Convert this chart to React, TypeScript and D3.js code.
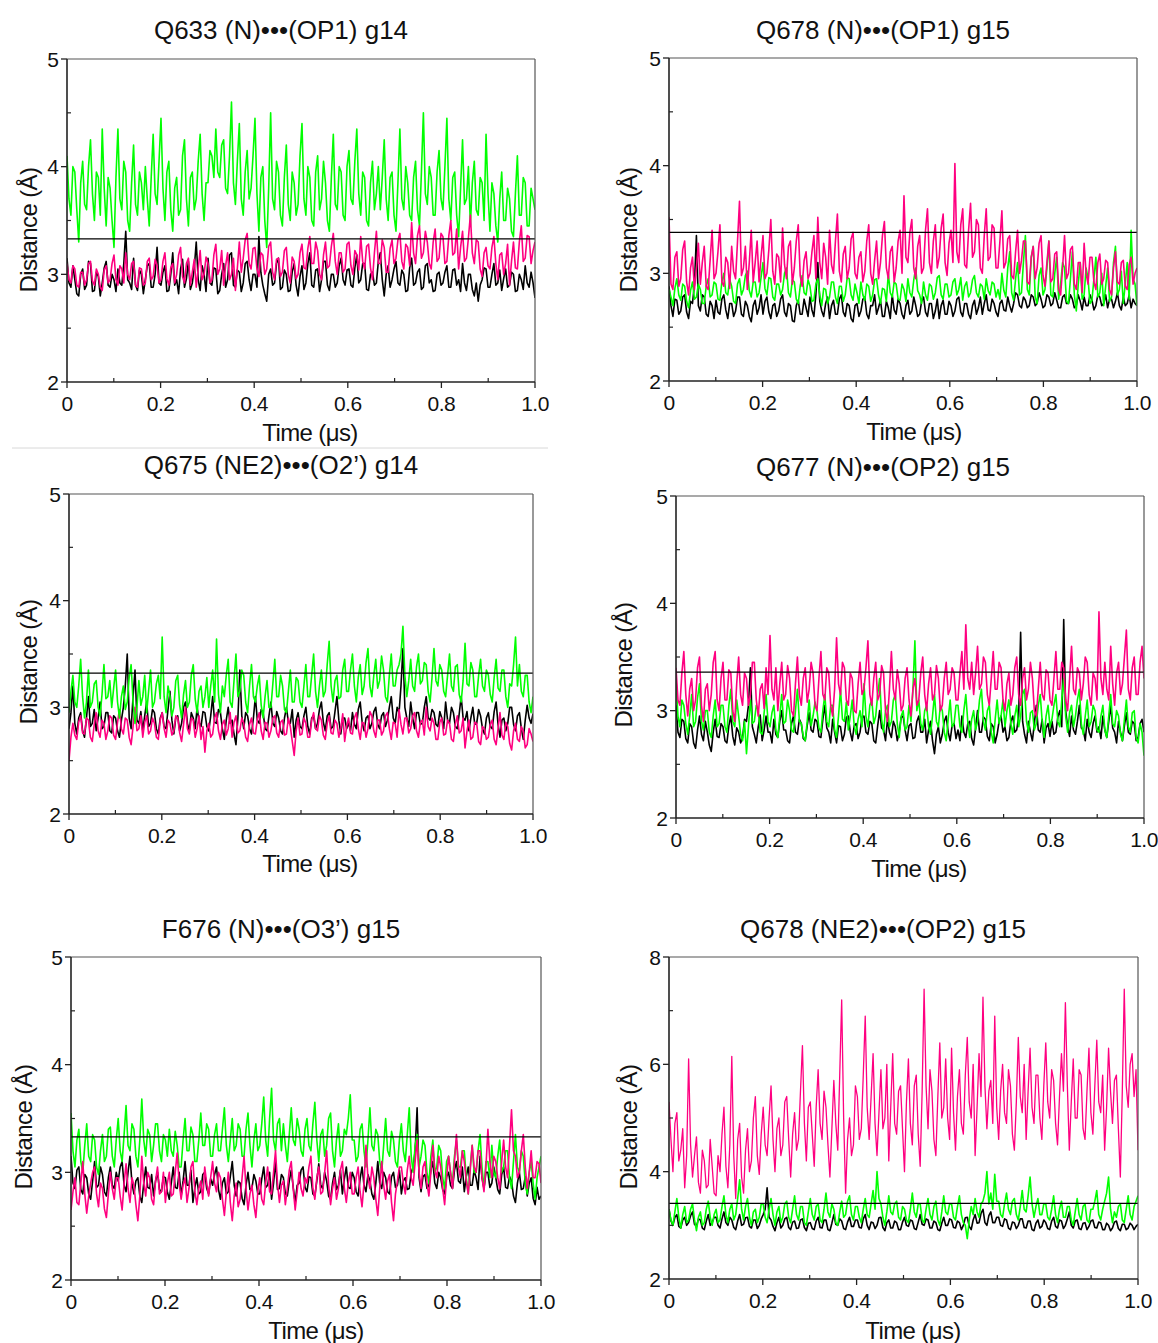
import React from "react";
import * as d3 from "d3";

// ---------- tick labels ----------
const xTicks = [0, 0.2, 0.4, 0.6, 0.8, 1.0];
const xTickLabels = ["0", "0.2", "0.4", "0.6", "0.8", "1.0"];
const xMinor = [0.1, 0.3, 0.5, 0.7, 0.9];
const yTicks5 = [2, 3, 4, 5];
const yTicks8 = [2, 4, 6, 8];

const titles = [
  "Q633 (N)•••(OP1) g14",
  "Q678 (N)•••(OP1) g15",
  "Q675 (NE2)•••(O2’) g14",
  "Q677 (N)•••(OP2) g15",
  "F676 (N)•••(O3’) g15",
  "Q678 (NE2)•••(OP2) g15",
];
const thresholds = [3.33, 3.38, 3.32, 3.36, 3.33, 3.41];

// ---------- series values (Å), 240 samples over 0–1 µs ----------
const p1Black = [
3.15,2.92,2.88,3.08,2.95,2.82,2.8,3.0,3.05,2.86,2.9,3.12,3.1,2.84,2.85,3.02,2.98,2.8,2.92,3.06,3.12,2.9,2.88,3.0,
2.95,2.84,3.05,2.92,2.9,3.1,3.4,2.95,2.92,2.86,3.15,2.9,2.85,3.04,3.0,2.82,2.95,3.08,3.1,2.88,2.88,3.0,3.25,2.92,
2.9,3.02,3.08,2.84,2.85,3.0,3.2,2.9,2.95,2.82,3.05,3.14,2.88,2.96,3.12,2.86,2.92,3.06,3.3,2.95,2.85,3.08,3.0,2.84,
3.15,2.92,2.9,3.06,3.05,2.82,2.85,3.0,3.1,2.88,2.95,3.18,3.2,2.9,2.88,3.04,3.02,2.84,2.92,3.1,3.12,2.95,2.85,3.0,
3.0,2.88,3.35,3.02,2.9,2.82,2.75,3.0,3.05,2.9,2.92,3.1,3.15,2.86,2.88,3.04,3.0,2.84,2.85,3.02,3.1,2.9,2.8,2.98,
3.08,2.86,2.92,3.1,3.2,2.9,2.88,3.04,3.05,2.84,2.95,3.12,3.12,2.9,2.85,3.0,3.0,2.88,2.92,3.08,3.15,2.95,2.9,3.04,
3.05,2.9,2.88,3.06,3.18,2.92,2.95,3.1,3.1,2.86,2.85,3.0,3.02,2.9,2.92,3.12,3.2,2.95,2.8,3.0,3.08,2.88,2.95,3.05,
3.12,2.92,2.9,3.04,3.0,2.84,2.85,3.06,3.15,2.9,2.92,3.02,3.05,2.86,2.88,3.08,3.1,2.92,2.95,2.84,2.85,3.0,3.02,2.9,
2.92,3.02,3.08,2.88,2.88,3.04,3.05,2.9,2.95,2.84,3.1,2.92,2.85,3.0,3.0,2.86,2.8,2.92,2.75,2.9,2.95,3.06,3.05,2.88,
2.88,3.0,3.1,2.9,2.92,3.04,2.85,2.96,3.05,2.88,2.9,3.02,3.0,2.84,2.85,3.0,2.95,2.86,3.08,2.92,2.88,3.02,2.92,2.78,
];
const p1Green = [
4.1,3.7,3.55,4.0,3.95,3.6,3.3,3.85,4.05,3.65,3.6,4.0,4.25,3.75,3.5,3.95,3.9,3.55,4.35,3.8,3.45,3.9,3.8,3.5,
3.25,3.9,4.35,3.7,3.6,4.05,3.95,3.5,3.4,3.85,4.2,3.65,3.55,3.95,3.85,3.6,4.0,3.7,3.45,3.9,4.3,3.75,3.65,4.05,
4.45,3.8,3.5,3.95,4.05,3.6,3.4,3.8,3.9,3.55,3.6,4.1,4.25,3.7,3.45,3.9,3.95,3.6,3.7,4.05,4.3,3.75,3.5,3.85,
3.85,4.15,4.1,3.9,4.35,3.95,3.9,4.2,4.25,3.8,3.75,4.1,4.6,3.85,3.65,4.05,4.4,3.7,3.55,3.95,4.15,3.7,3.8,4.1,
4.45,3.75,3.4,3.9,4.0,3.5,3.25,3.8,4.5,3.7,3.6,4.05,3.95,3.55,3.45,3.9,4.2,3.65,3.5,3.95,3.85,3.55,3.65,4.1,
4.4,3.7,3.55,4.0,3.9,3.5,3.45,3.95,4.1,3.6,3.7,4.05,3.85,3.5,3.4,3.9,4.3,3.65,3.6,4.0,3.95,3.55,3.5,4.0,
4.15,3.7,3.65,4.05,4.35,3.75,3.55,3.95,3.9,3.5,3.45,3.85,4.05,3.6,3.75,4.0,3.6,3.9,4.25,3.7,3.5,3.9,3.95,3.55,
3.4,3.85,4.35,3.7,3.6,4.0,3.85,3.55,3.5,3.9,4.05,3.6,3.45,3.95,4.5,3.75,3.65,4.0,3.9,3.55,3.55,3.95,4.15,3.7,
3.6,4.0,4.45,3.7,3.5,3.9,3.95,3.55,3.35,3.8,4.25,3.65,3.7,4.0,3.45,3.85,4.05,3.6,3.55,3.9,3.85,3.5,4.3,3.75,
3.4,3.85,3.75,3.45,3.3,3.7,3.95,3.5,3.5,3.8,3.7,3.4,3.35,3.75,4.1,3.55,3.55,3.9,3.85,3.45,3.45,3.8,3.7,3.6,
];
const p1Pink = [
3.1,2.95,2.92,3.08,3.05,2.9,2.88,3.02,3.02,2.9,2.95,3.1,3.12,2.94,2.9,3.05,3.0,2.88,2.85,3.04,3.08,2.92,2.95,3.1,
3.18,2.95,2.9,3.08,3.05,2.92,3.2,3.0,2.95,3.1,3.12,2.9,2.88,3.06,3.05,2.9,2.92,3.12,3.15,2.95,2.98,3.14,3.08,2.92,
2.95,3.12,3.2,2.96,2.9,3.06,3.1,2.92,3.0,3.18,3.25,2.98,2.92,3.1,3.15,2.9,3.02,3.14,2.88,3.05,3.22,2.95,3.0,3.16,
3.1,2.92,2.95,3.18,3.28,3.0,3.05,3.22,2.9,3.08,3.2,2.95,3.0,3.15,2.85,3.06,3.3,3.02,3.15,3.32,3.38,3.1,3.05,3.24,
3.25,3.05,2.98,3.2,3.18,3.0,3.05,3.26,3.3,3.02,2.95,3.14,3.15,2.98,3.02,3.22,3.25,3.0,2.92,3.16,3.12,2.96,3.0,3.2,
3.28,3.06,3.05,3.24,3.35,3.1,3.1,3.3,3.22,3.0,2.95,3.18,3.3,3.06,3.08,3.26,3.38,3.12,3.0,3.2,3.2,3.02,3.05,3.28,
3.3,3.08,3.0,3.22,3.18,3.04,3.35,3.12,3.05,3.26,3.28,3.06,2.95,3.2,3.4,3.1,3.1,3.32,3.25,3.02,3.02,3.24,3.32,3.1,
3.15,3.32,3.38,3.12,3.05,3.28,3.25,3.08,3.48,3.2,3.1,3.36,3.45,3.15,3.2,3.4,3.3,3.1,3.05,3.3,3.42,3.12,3.15,3.38,
3.35,3.1,3.12,3.36,3.5,3.18,3.2,3.42,3.05,3.25,3.4,3.12,3.15,3.34,3.55,3.2,3.1,3.32,3.3,3.05,2.98,3.2,3.25,3.08,
3.05,3.25,3.35,3.1,2.95,3.18,3.2,3.0,3.1,3.28,2.9,3.12,3.3,3.06,3.05,3.3,3.45,3.12,3.15,3.36,3.35,3.1,3.22,3.3,
];

const p2Black = [
2.88,2.7,2.6,2.76,2.75,2.62,2.65,2.78,2.8,2.64,2.58,2.74,2.72,2.9,3.35,2.7,2.65,2.8,2.78,2.62,2.6,2.74,2.7,2.58,
2.75,2.64,2.62,2.76,2.8,2.66,2.58,2.72,2.72,2.6,2.65,2.78,2.78,2.62,2.6,2.74,2.7,2.6,2.55,2.7,2.75,2.62,2.68,2.8,
2.62,2.74,2.78,2.64,2.58,2.7,2.72,2.6,2.65,2.76,2.8,2.64,2.6,2.72,2.7,2.56,2.55,2.7,2.75,2.62,2.62,2.76,2.68,2.6,
2.78,2.66,2.6,2.8,3.1,2.74,2.65,2.6,2.72,2.78,2.58,2.7,2.75,2.62,2.62,2.76,2.8,2.64,2.6,2.72,2.7,2.58,2.55,2.7,
2.72,2.6,2.65,2.76,2.78,2.62,2.58,2.7,2.7,2.8,2.62,2.68,2.75,2.6,2.6,2.74,2.68,2.58,2.8,2.66,2.62,2.76,2.72,2.62,
2.58,2.7,2.75,2.62,2.65,2.78,2.7,2.6,2.62,2.74,2.78,2.64,2.6,2.72,2.72,2.58,2.65,2.76,2.58,2.7,2.75,2.62,2.62,2.74,
2.7,2.6,2.65,2.76,2.78,2.64,2.6,2.72,2.72,2.62,2.58,2.7,2.75,2.62,2.68,2.78,2.62,2.72,2.8,2.66,2.65,2.76,2.72,2.64,
2.6,2.72,2.75,2.66,2.65,2.78,2.7,2.64,2.72,2.82,2.8,2.7,2.68,2.78,2.75,2.68,2.7,2.8,2.78,2.7,2.72,2.82,2.76,2.68,
2.7,2.8,2.78,2.7,2.72,2.82,2.75,2.68,2.68,2.78,2.8,2.72,2.72,2.8,2.76,2.68,2.7,2.8,2.74,2.66,2.78,2.7,2.7,2.8,
2.75,2.66,2.7,2.8,2.78,2.7,2.72,2.8,2.68,2.76,2.76,2.68,2.74,2.82,2.7,2.66,2.78,2.7,2.72,2.8,2.68,2.76,2.72,2.7,
];
const p2Green = [
2.85,2.78,2.7,2.86,2.95,2.8,2.75,2.9,2.88,2.74,2.68,2.84,2.92,2.76,2.78,2.9,2.85,2.72,2.72,2.88,2.95,2.78,2.8,2.92,
2.9,2.76,2.75,2.92,3.0,2.82,2.8,2.94,2.88,2.74,2.72,2.9,2.95,2.8,2.85,2.98,3.02,2.84,2.78,2.92,2.92,2.78,2.82,2.96,
3.1,2.86,2.8,2.96,2.95,2.78,2.75,2.9,2.9,2.8,2.85,3.0,3.05,2.82,2.78,2.94,2.92,2.76,2.72,2.88,2.98,2.82,2.8,2.94,
2.88,2.74,2.75,2.9,2.95,2.8,2.7,2.86,2.85,2.72,2.78,2.92,2.92,2.78,2.72,2.88,2.88,2.74,2.8,2.96,2.95,2.8,2.75,2.9,
2.82,2.72,2.92,2.8,2.75,2.9,2.88,2.74,2.8,2.94,2.95,2.8,2.72,2.86,2.85,2.74,3.0,2.82,2.78,2.92,2.9,2.76,2.75,2.9,
2.85,2.74,2.95,2.82,2.78,2.94,3.05,2.84,2.8,2.72,2.92,2.8,2.75,2.9,2.88,2.76,2.82,2.96,2.98,2.8,2.76,2.9,2.9,2.78,
2.8,2.92,2.95,2.8,2.85,2.96,2.75,2.88,2.92,2.78,2.82,2.94,2.98,2.82,2.78,2.9,2.88,2.76,2.95,2.84,2.8,2.92,2.9,2.78,
2.85,2.76,3.0,2.84,2.78,3.05,3.2,2.82,2.75,2.95,3.1,2.8,2.82,3.1,3.35,2.85,2.8,3.15,3.25,2.78,2.72,2.98,3.05,2.8,
2.85,3.05,3.3,2.8,2.78,3.0,3.15,2.76,2.9,3.1,3.05,2.74,2.72,2.95,3.2,2.8,2.65,2.9,3.1,2.76,2.8,3.05,2.95,2.72,
2.75,2.95,3.15,2.78,2.82,3.0,2.7,2.88,3.05,2.74,2.78,3.1,3.25,2.8,2.85,3.02,2.72,2.9,3.1,2.76,3.4,2.95,2.9,2.7,
];
const p2Pink = [
3.52,2.9,2.85,3.15,3.2,2.88,2.95,3.22,3.3,2.92,2.8,3.05,3.15,2.85,3.05,3.28,2.9,3.1,3.25,2.88,2.85,3.12,3.4,2.95,
3.0,3.2,3.45,2.92,2.88,3.15,3.1,2.86,3.25,3.02,2.95,3.3,3.67,2.98,3.05,3.25,2.85,3.1,3.4,2.92,3.1,3.3,2.92,3.15,
3.35,2.95,3.0,3.22,3.5,3.02,2.9,3.18,3.15,2.92,3.42,3.08,2.95,3.25,3.3,2.9,3.05,3.3,3.45,2.98,2.88,3.12,3.2,2.95,
3.0,3.2,3.35,2.95,3.52,3.1,2.95,3.28,3.15,2.9,3.4,3.08,3.0,3.3,3.55,3.02,2.92,3.18,3.25,2.95,3.05,3.32,3.38,3.0,
2.95,3.15,3.2,2.92,3.02,3.3,3.45,3.0,2.9,3.12,3.3,2.95,3.1,3.35,3.48,3.05,2.95,3.2,3.25,2.92,3.05,3.3,3.4,3.0,
3.72,3.15,3.1,3.38,3.5,3.05,2.95,3.25,3.35,3.0,3.05,3.4,3.6,3.1,3.0,3.3,3.45,3.05,3.15,3.42,3.55,3.1,2.98,3.28,
3.4,3.1,4.02,3.2,3.1,3.45,3.6,3.08,3.05,3.4,3.65,3.15,3.2,3.5,3.45,3.05,3.0,3.35,3.6,3.12,3.15,3.45,3.42,3.05,
3.05,3.3,3.58,3.05,3.1,3.32,3.35,2.98,2.95,3.2,3.4,3.0,3.12,3.3,3.3,2.92,2.9,3.15,3.25,2.95,3.05,3.28,3.35,2.98,
2.88,3.1,3.3,2.92,2.95,3.18,3.2,2.85,2.8,3.05,3.35,2.95,3.0,3.22,3.25,2.9,2.85,3.1,3.1,2.82,3.28,3.0,2.9,3.15,
3.15,2.92,2.85,3.1,3.18,2.9,2.95,3.12,3.1,2.85,2.8,3.05,3.2,2.92,2.9,3.1,3.12,2.88,2.85,3.08,3.15,2.9,3.0,3.05,
];

const p3Black = [
2.8,2.95,3.2,2.85,2.75,2.9,2.95,2.78,2.72,2.9,3.1,2.82,2.85,2.98,2.78,2.9,3.05,2.8,2.82,2.95,2.95,2.78,2.76,2.92,
2.9,2.78,2.72,2.88,3.0,3.2,3.5,2.9,2.8,3.1,3.35,2.88,2.85,2.96,2.78,2.92,3.05,2.82,2.85,2.98,2.95,2.8,2.75,2.9,
2.95,2.82,2.8,2.98,3.15,2.88,2.75,2.9,2.92,2.78,2.85,3.0,3.05,2.85,2.78,2.95,2.9,2.8,3.0,2.86,2.82,2.96,2.95,2.82,
2.78,2.92,3.1,2.86,2.85,2.98,2.95,2.8,2.7,2.88,3.0,2.85,2.88,2.75,2.65,2.9,3.35,2.92,2.8,2.95,2.92,2.8,2.75,2.9,
3.1,2.88,2.85,2.98,2.95,2.8,2.78,2.92,3.05,2.85,2.82,2.96,2.9,2.78,2.75,2.9,3.0,2.86,2.85,2.98,2.72,2.88,2.95,2.82,
2.8,2.92,3.0,2.82,2.75,2.9,2.92,2.8,2.85,2.98,3.05,2.86,2.78,2.92,2.95,2.8,2.82,2.96,3.1,2.88,2.75,2.9,2.9,2.8,
2.85,2.78,2.95,2.84,2.8,2.98,3.05,2.86,2.78,2.9,2.92,2.8,2.85,2.96,3.0,2.84,2.8,2.92,2.95,2.82,2.88,3.0,3.1,2.9,
2.85,3.0,2.95,3.2,3.55,3.0,2.9,2.82,3.05,2.9,2.8,2.95,2.95,2.84,2.85,3.0,3.1,2.9,2.88,2.98,2.95,2.84,2.82,2.96,
2.9,2.8,3.05,2.88,2.85,3.0,2.95,2.82,2.8,2.94,3.1,2.9,2.88,2.96,2.78,2.9,3.0,2.84,2.85,2.98,2.92,2.8,2.75,2.9,
2.95,2.82,2.8,2.96,3.05,2.84,2.72,2.88,2.9,2.78,2.85,3.0,3.0,2.84,2.78,2.92,2.95,2.8,2.7,2.88,3.02,2.9,2.85,2.94,
];
const p3Pink = [
2.5,2.72,2.85,2.74,2.7,2.86,2.92,2.76,2.75,2.9,2.88,2.72,2.68,2.84,2.95,2.78,2.72,2.88,2.85,2.7,2.78,2.92,2.9,2.74,
2.7,2.86,2.98,2.8,2.75,2.9,2.88,2.72,2.65,2.82,3.0,2.78,2.8,2.92,2.72,2.86,2.92,2.75,2.78,2.9,2.85,2.72,2.7,2.88,
2.95,2.8,2.72,2.88,2.85,2.74,2.78,2.92,2.9,2.76,2.68,2.84,3.0,2.8,2.75,2.9,2.88,2.72,2.8,2.92,2.7,2.82,2.58,2.78,
2.85,2.72,2.75,2.9,2.95,2.78,2.7,2.84,2.88,2.74,2.8,2.95,2.72,2.86,2.92,2.76,2.78,2.9,2.85,2.72,2.68,2.84,2.9,2.76,
2.75,2.88,2.95,2.78,2.7,2.86,2.85,2.72,2.78,2.9,2.92,2.76,2.72,2.86,2.88,2.74,2.75,2.9,2.82,2.68,2.55,2.78,2.9,2.74,
2.75,2.9,2.85,2.72,2.72,2.88,2.95,2.8,2.78,2.92,2.88,2.74,2.7,2.85,2.92,2.76,2.75,2.88,2.85,2.72,2.8,2.94,2.68,2.82,
2.9,2.76,2.75,2.9,2.95,2.8,2.7,2.86,2.85,2.72,2.8,2.96,2.92,2.78,2.72,2.88,2.88,2.74,2.78,2.92,2.95,2.8,2.7,2.86,
2.85,2.72,2.98,2.84,2.75,2.9,2.9,2.76,2.8,2.92,2.95,2.78,2.72,2.86,2.88,2.74,3.0,2.82,2.78,2.9,2.85,2.7,2.7,2.86,
2.9,2.74,2.75,2.88,2.85,2.7,2.68,2.84,2.92,2.76,2.78,2.9,2.62,2.78,2.88,2.7,2.72,2.86,2.85,2.68,2.65,2.82,2.8,2.7,
2.72,2.84,2.88,2.7,2.65,2.8,2.95,2.74,2.7,2.86,2.82,2.66,2.6,2.78,2.85,2.7,2.68,2.82,2.78,2.62,2.65,2.8,2.75,2.68,
];
const p3Green = [
2.95,3.15,3.3,3.05,3.0,3.2,3.45,3.1,2.9,3.05,3.35,3.0,3.05,3.22,3.25,3.0,2.92,3.12,3.4,3.08,3.1,3.25,3.0,3.18,
3.35,3.05,2.9,3.1,3.2,2.98,3.05,3.28,3.4,3.05,2.85,3.0,3.25,3.02,3.1,3.3,2.95,3.15,3.35,3.0,3.05,3.22,3.3,3.08,
3.66,3.1,2.95,3.2,3.1,2.92,3.0,3.25,3.3,3.02,2.9,3.12,3.25,3.0,3.05,3.3,3.4,3.08,2.95,3.15,3.2,3.0,3.1,3.28,
3.0,3.2,3.35,3.05,3.64,3.12,2.95,3.2,3.1,3.3,3.45,3.05,3.0,3.25,3.5,3.1,3.15,3.35,3.3,3.05,2.95,3.2,3.4,3.1,
3.05,3.2,3.3,3.02,2.9,3.1,3.25,3.0,3.0,3.22,3.45,3.1,3.1,3.3,3.2,2.98,2.95,3.15,3.35,3.05,3.05,3.28,3.25,3.05,
3.0,3.2,3.4,3.1,3.1,3.3,3.5,3.15,3.0,3.2,3.35,3.1,3.15,3.4,3.62,3.2,3.05,3.25,3.3,3.08,3.1,3.35,3.45,3.15,
3.15,3.35,3.5,3.2,3.05,3.28,3.4,3.12,3.2,3.42,3.55,3.2,3.1,3.3,3.45,3.18,3.25,3.48,3.35,3.1,3.05,3.3,3.5,3.2,
3.2,3.35,3.4,3.5,3.76,3.3,3.1,3.25,3.45,3.2,3.15,3.38,3.5,3.22,3.25,3.42,3.4,3.15,3.05,3.28,3.55,3.25,3.2,3.4,
3.35,3.15,3.1,3.3,3.5,3.2,3.15,3.38,3.4,3.12,3.05,3.25,3.6,3.22,3.2,3.42,3.35,3.1,3.1,3.3,3.45,3.2,3.15,3.35,
3.3,3.12,3.05,3.28,3.45,3.18,3.15,3.35,3.35,3.1,3.0,3.22,3.2,3.4,3.66,3.2,3.4,3.15,3.1,3.3,3.3,3.05,2.95,3.1,
];

const p4Black = [
3.05,2.8,2.75,2.92,2.9,2.74,2.7,2.88,2.85,2.7,2.65,2.82,2.95,2.78,2.72,2.9,2.8,2.68,2.62,2.8,2.92,2.76,2.75,2.88,
2.85,2.72,2.7,2.86,2.95,2.76,2.68,2.84,2.8,2.7,2.75,2.92,2.9,3.05,3.4,2.85,2.78,2.7,2.85,2.96,2.72,2.82,2.95,2.8,
2.8,2.7,2.92,2.78,2.75,2.9,3.0,2.82,2.82,2.72,2.7,2.88,2.95,2.8,2.78,2.92,2.88,2.74,2.72,2.86,2.98,2.82,2.8,2.92,
2.9,2.76,2.75,2.92,3.05,2.84,2.8,2.7,2.92,2.8,2.7,2.86,2.85,2.72,2.78,2.94,2.95,2.8,2.72,2.86,2.88,2.74,2.8,2.94,
2.95,2.8,2.78,2.9,2.88,2.72,2.7,2.86,3.0,2.84,2.82,2.72,2.92,2.8,2.75,2.9,2.85,2.72,2.8,2.94,2.95,2.82,2.72,2.86,
2.88,2.74,2.75,2.9,2.95,2.8,2.8,2.92,2.7,2.82,2.9,2.72,2.6,2.78,2.85,2.7,2.78,2.9,2.95,2.8,2.72,2.86,2.88,2.74,
2.82,2.72,2.95,2.8,2.75,2.88,2.9,2.74,2.68,2.84,3.0,2.8,2.8,2.94,2.92,2.76,2.72,2.88,2.85,2.7,2.78,2.9,2.95,2.8,
2.85,2.72,2.75,2.9,2.95,2.8,2.82,2.95,3.73,2.9,2.78,2.7,2.9,2.8,2.72,2.88,3.05,2.82,2.8,2.92,2.7,2.84,2.88,2.76,
2.9,2.78,2.8,2.94,3.0,2.85,3.85,3.0,2.85,2.76,2.95,2.82,2.78,2.9,3.05,2.84,2.82,2.72,2.92,2.8,2.75,2.88,2.95,2.8,
2.85,2.74,2.95,2.82,2.75,2.9,3.05,2.84,2.8,2.7,2.9,2.8,2.72,2.86,2.98,2.8,2.78,2.9,2.88,2.72,2.75,2.88,2.92,2.8,
];
const p4Green = [
3.3,2.95,2.85,3.1,3.05,2.88,2.78,2.95,3.15,2.85,2.9,3.12,3.25,2.9,2.82,3.0,3.0,2.8,2.75,2.95,3.1,2.85,2.88,3.05,
3.05,2.85,2.8,3.05,3.2,2.9,2.85,3.1,2.95,2.78,2.72,2.9,2.6,2.85,3.1,2.88,2.9,3.05,3.0,2.8,2.78,2.98,3.15,2.9,
2.85,2.98,3.05,2.82,2.75,2.95,3.15,2.88,2.9,3.1,3.0,2.82,2.8,3.0,3.2,2.9,2.88,2.76,2.72,2.9,3.1,2.86,2.95,3.08,
3.0,2.84,2.8,3.0,3.15,2.9,2.85,3.05,3.05,2.82,2.75,2.95,3.2,2.92,2.9,3.08,2.82,2.95,3.1,2.86,2.78,2.92,3.0,2.85,
3.25,2.95,2.85,3.05,3.1,2.88,2.95,3.15,3.3,2.92,2.8,3.0,3.05,2.85,2.9,3.1,3.15,2.88,2.75,2.95,3.0,2.82,2.85,3.05,
2.9,3.2,3.65,3.0,3.1,2.88,2.82,3.0,3.05,2.85,2.78,2.95,3.15,2.9,2.85,3.05,3.0,2.8,2.72,2.92,3.1,2.85,2.88,3.05,
3.05,2.85,2.8,3.0,3.15,2.9,2.75,2.92,3.0,2.82,2.9,3.1,3.2,2.9,2.82,3.0,3.05,2.8,2.7,2.92,3.1,2.88,2.95,3.1,
2.85,3.0,3.1,2.88,2.78,2.95,3.05,2.85,2.95,3.15,3.2,2.9,2.8,2.98,3.0,2.82,2.88,3.05,3.15,2.9,2.75,2.95,3.05,2.85,
2.92,3.05,3.15,2.9,2.85,3.1,3.3,2.95,2.8,2.98,3.05,2.85,2.95,3.1,3.2,2.88,2.78,2.95,3.1,2.85,2.9,3.05,3.0,2.82,
2.8,2.95,3.05,2.82,2.75,2.95,3.15,2.88,2.85,3.0,2.95,2.78,2.72,2.92,3.1,2.85,2.8,2.98,3.0,2.75,2.7,2.88,2.8,2.58,
];
const p4Pink = [
3.4,3.1,3.05,3.35,3.55,3.15,2.95,3.2,3.3,3.0,3.1,3.4,3.5,3.05,2.9,3.2,3.25,3.0,3.15,3.45,3.55,3.1,3.0,3.3,
3.45,3.1,3.1,3.38,3.35,3.0,2.9,3.25,3.5,3.15,3.05,3.35,3.3,3.05,3.15,3.45,3.45,3.1,2.95,3.2,3.25,3.02,3.4,3.15,
3.7,3.2,3.1,3.4,3.0,3.25,3.45,3.1,3.15,3.42,3.3,3.0,2.95,3.25,3.5,3.15,3.05,3.3,3.4,3.08,3.2,3.45,3.35,3.05,
3.0,3.3,3.55,3.15,3.1,3.4,3.35,3.05,2.95,3.2,3.68,3.25,3.15,3.45,3.4,3.1,3.05,3.35,3.3,3.0,2.98,3.25,3.45,3.15,
3.2,3.4,3.65,3.15,3.05,3.3,3.45,3.1,3.15,3.42,3.35,3.0,2.9,3.2,3.55,3.2,3.1,3.38,3.25,3.0,3.05,3.3,3.4,3.1,
2.95,3.2,3.3,3.05,3.1,3.35,3.5,3.15,3.0,3.25,3.4,3.1,3.15,3.42,3.3,3.0,3.05,3.3,3.45,3.15,3.2,3.4,3.35,3.1,
3.1,3.35,3.55,3.2,3.8,3.3,3.2,3.45,3.15,3.35,3.6,3.2,3.25,3.5,3.45,3.15,3.05,3.3,3.55,3.2,3.2,3.45,3.4,3.1,
3.0,3.25,3.35,3.05,3.15,3.4,3.5,3.15,3.05,3.3,3.4,3.1,3.2,3.45,3.3,3.0,2.95,3.2,3.45,3.15,3.1,3.38,3.35,3.1,
3.05,3.3,3.55,3.2,3.2,3.45,3.4,3.1,3.0,3.3,3.6,3.2,3.15,3.4,3.35,3.1,3.25,3.5,3.45,3.15,3.05,3.35,3.3,3.1,
3.92,3.3,3.15,3.45,3.2,3.1,3.6,3.25,3.05,3.35,3.45,3.15,3.25,3.5,3.75,3.2,3.1,3.4,3.5,3.15,3.15,3.45,3.6,3.3,
];

const p5Black = [
3.15,2.9,2.85,3.02,3.05,2.84,2.8,2.98,2.95,2.8,2.75,2.92,3.1,2.86,2.88,3.05,2.98,2.82,2.78,2.95,3.05,2.88,2.85,3.0,
2.92,3.05,3.1,2.88,2.82,3.0,3.15,2.9,2.8,2.92,2.95,2.78,2.72,2.9,3.05,2.86,2.85,2.98,2.78,2.92,3.0,2.84,2.82,2.96,
2.95,2.82,2.75,2.9,3.05,2.86,2.85,3.0,2.78,2.92,3.1,2.88,2.88,3.02,2.72,2.86,2.95,2.8,2.82,2.98,3.0,2.85,2.8,2.94,
2.88,2.98,3.05,2.84,2.75,2.9,2.95,2.8,2.82,2.96,3.1,2.88,2.78,2.92,2.9,2.76,2.7,2.88,3.0,2.84,2.85,2.98,2.92,2.8,
2.8,2.94,3.05,2.86,2.88,3.0,2.75,2.9,3.1,2.84,2.85,2.98,2.95,2.8,2.78,2.92,3.02,2.86,2.72,2.88,2.9,3.02,3.05,2.86,
2.82,2.96,2.95,2.8,2.78,2.92,3.08,2.88,2.85,3.0,2.92,2.78,2.75,2.9,3.0,2.84,2.88,3.02,2.8,2.94,3.05,2.86,2.85,3.0,
2.95,2.82,2.78,2.94,3.05,2.88,2.82,2.98,2.92,2.8,2.75,2.9,3.1,2.9,2.85,3.0,2.95,2.82,2.8,2.96,3.0,2.86,2.88,3.02,
2.8,2.92,2.95,2.84,2.85,3.0,3.05,3.2,3.6,2.95,2.82,2.96,2.98,2.85,2.88,3.02,3.1,2.9,2.85,3.0,2.95,2.84,2.8,2.96,
3.0,2.88,2.85,3.02,3.1,2.92,2.9,3.05,2.82,2.96,3.05,2.88,2.88,3.02,2.95,2.84,3.15,2.95,2.85,3.0,3.0,2.86,2.9,3.05,
2.95,2.84,2.8,2.98,3.05,2.86,2.85,2.96,2.92,2.78,2.72,2.9,3.0,2.84,2.85,2.96,2.78,2.9,2.95,2.76,2.7,2.86,2.75,2.78,
];
const p5Green = [
3.55,3.2,3.05,3.3,3.4,3.1,3.0,3.25,3.45,3.15,3.1,3.35,3.3,3.05,2.98,3.2,3.35,3.1,3.15,3.4,3.42,3.15,3.05,3.3,
3.5,3.2,3.1,3.35,3.62,3.25,3.2,3.45,3.4,3.15,3.05,3.3,3.68,3.3,3.15,3.4,3.35,3.1,3.25,3.45,3.45,3.2,3.1,3.35,
3.3,3.15,3.4,3.2,3.15,3.38,3.25,3.05,3.05,3.3,3.5,3.2,3.2,3.42,3.35,3.1,3.1,3.3,3.55,3.25,3.25,3.45,3.4,3.15,
3.15,3.35,3.45,3.2,3.2,3.4,3.6,3.25,3.1,3.3,3.5,3.2,3.25,3.45,3.4,3.15,3.15,3.4,3.55,3.25,3.05,3.3,3.45,3.2,
3.25,3.45,3.7,3.3,3.15,3.5,3.78,3.3,3.2,3.45,3.5,3.2,3.45,3.25,3.1,3.35,3.6,3.3,3.25,3.5,3.4,3.2,3.15,3.4,
3.5,3.25,3.2,3.45,3.65,3.3,3.1,3.35,3.4,3.15,3.25,3.5,3.55,3.2,3.05,3.3,3.45,3.15,3.2,3.4,3.35,3.5,3.72,3.3,
3.3,3.1,3.15,3.4,3.45,3.2,3.05,3.3,3.6,3.25,3.2,3.4,3.35,3.1,3.0,3.25,3.5,3.2,3.15,3.38,3.3,3.1,3.05,3.3,
3.45,3.2,3.1,3.35,3.6,3.15,3.0,3.25,3.35,3.05,3.15,3.3,3.25,3.0,2.9,3.15,3.3,3.0,3.05,3.25,3.2,2.95,2.85,3.1,
3.15,3.0,2.9,3.15,3.3,3.05,3.05,3.2,3.2,2.95,2.8,3.05,3.25,3.0,3.0,3.2,3.35,3.05,2.85,3.1,3.1,2.95,3.25,3.0,
2.95,3.15,3.3,3.0,3.05,3.2,3.2,2.95,2.85,3.1,3.35,3.05,3.0,3.2,3.15,2.9,2.8,3.0,3.1,2.9,2.75,2.95,3.05,3.15,
];
const p5Pink = [
2.65,2.82,2.95,2.72,2.7,2.9,3.1,2.8,2.62,2.78,2.9,3.0,3.05,2.8,2.68,2.9,2.85,2.66,2.58,2.8,3.0,2.85,2.75,2.95,
2.95,2.78,2.65,2.9,3.08,2.85,2.72,2.95,2.88,2.7,2.55,2.78,3.15,2.9,2.78,3.0,2.95,2.75,2.7,2.92,3.05,2.8,2.82,3.0,
2.72,2.9,3.0,2.78,2.8,3.0,3.18,2.9,2.75,2.88,2.95,2.72,2.85,3.05,3.1,2.82,2.7,2.85,2.92,2.75,3.05,2.9,2.78,2.95,
3.1,2.9,2.82,3.0,2.95,2.75,2.6,2.82,3.0,2.72,2.55,2.78,2.9,2.68,2.75,2.95,3.15,2.85,2.65,2.8,2.88,2.7,2.58,2.82,
2.95,2.75,2.7,2.9,3.05,2.82,2.8,3.0,3.2,2.9,2.72,2.88,2.92,2.7,2.85,3.02,3.1,2.85,2.65,2.82,3.0,2.85,2.78,2.95,
2.9,3.05,3.15,2.85,2.75,2.95,3.05,2.8,2.82,3.0,3.2,2.88,2.7,2.85,2.95,2.75,2.85,3.02,3.1,2.85,2.72,2.9,3.0,2.8,
2.8,2.95,3.05,2.82,2.68,2.9,3.25,2.95,2.85,3.05,2.95,2.75,2.6,2.85,3.1,2.88,2.75,2.92,2.98,2.72,2.55,2.8,2.92,3.05,
3.05,2.9,2.8,3.02,3.15,2.95,2.88,3.1,3.3,3.0,2.85,3.05,3.1,2.9,2.78,3.0,3.25,3.02,2.95,3.15,3.05,2.85,2.7,2.95,
3.15,3.0,2.85,3.1,3.35,3.05,2.95,3.2,3.1,2.92,2.8,3.02,3.25,3.05,3.0,3.2,3.2,2.95,2.82,3.05,3.4,3.1,2.95,3.15,
3.1,2.95,2.85,3.1,3.3,3.05,2.95,3.25,3.58,3.2,3.15,2.95,3.0,3.2,3.35,3.05,2.85,3.0,3.2,2.95,2.95,3.1,3.08,2.9,
];

const p6Black = [
3.3,3.08,3.0,3.15,3.2,2.98,2.95,3.1,3.15,3.0,3.05,3.18,3.25,3.02,2.98,3.12,3.1,2.95,2.92,3.08,3.2,3.0,3.05,3.15,
3.15,3.0,2.95,3.12,3.25,3.05,3.0,3.15,3.1,2.96,2.92,3.08,3.2,3.0,3.02,3.14,3.15,2.98,2.95,3.1,3.1,2.94,3.0,3.12,
3.2,3.3,3.7,3.15,3.1,2.98,2.9,3.05,3.15,2.95,3.0,3.12,3.15,2.96,2.92,3.06,3.08,2.94,2.95,3.1,3.12,2.96,2.9,3.04,
3.05,2.94,2.92,3.08,3.15,2.96,2.95,3.1,3.1,2.92,2.9,3.04,3.2,3.02,3.0,3.12,3.08,2.94,2.92,3.06,3.15,2.98,2.98,3.1,
3.1,2.96,2.95,3.12,3.2,3.0,2.92,3.06,3.05,2.94,3.0,3.14,3.15,2.96,2.9,3.05,3.1,2.95,2.95,3.08,3.05,2.92,2.92,3.06,
3.15,3.0,2.98,3.1,3.08,2.94,2.92,3.06,3.2,3.02,3.0,3.12,3.1,2.95,2.95,3.08,3.05,2.92,2.9,3.04,3.15,3.0,3.0,3.12,
3.1,2.96,2.95,3.08,3.05,2.92,3.0,3.14,3.15,2.98,2.92,3.1,3.2,3.04,3.05,3.22,3.3,3.05,3.0,3.18,3.25,3.05,3.05,3.15,
3.15,3.0,2.98,3.12,3.1,2.95,2.92,3.06,3.05,2.94,3.0,3.12,3.12,2.96,2.95,3.08,3.08,2.92,2.9,3.04,3.1,2.95,2.98,3.1,
3.05,2.94,2.92,3.08,3.15,2.98,2.95,3.1,3.08,2.94,3.0,3.12,3.25,3.0,2.95,3.08,3.1,2.94,2.92,3.04,3.05,2.92,2.98,3.08,
3.1,2.96,2.95,3.06,3.05,2.92,2.92,3.04,3.0,2.9,2.95,3.06,3.08,2.94,2.9,3.02,3.02,2.92,2.95,3.04,3.0,2.92,2.98,3.02,
];
const p6Green = [
3.3,3.1,3.0,3.25,3.5,3.15,2.95,3.2,3.35,3.05,3.1,3.3,3.4,3.1,2.9,3.15,3.25,3.0,3.05,3.3,3.45,3.15,3.0,3.2,
3.3,3.05,3.1,3.35,3.55,3.2,3.05,3.3,3.4,3.1,3.2,3.5,3.85,3.3,3.1,3.35,3.5,3.15,3.0,3.25,3.3,3.05,3.15,3.4,
3.4,3.15,3.05,3.3,3.5,3.2,3.0,3.25,3.35,3.05,3.15,3.4,3.45,3.15,3.05,3.3,3.55,3.2,3.1,3.35,3.35,3.05,3.0,3.25,
3.5,3.2,3.1,3.35,3.4,3.1,3.05,3.3,3.6,3.25,3.15,3.4,3.3,3.05,3.0,3.25,3.45,3.15,3.2,3.45,3.55,3.2,3.1,3.35,
3.35,3.15,3.05,3.3,3.5,3.2,3.15,3.4,3.65,3.3,4.0,3.5,3.4,3.15,3.0,3.25,3.55,3.25,3.2,3.4,3.45,3.15,3.1,3.35,
3.3,3.1,3.05,3.3,3.6,3.25,3.15,3.4,3.4,3.1,3.05,3.3,3.5,3.2,3.1,3.35,3.45,3.1,3.0,3.25,3.55,3.25,3.2,3.4,
3.4,3.15,3.1,3.35,3.55,3.2,3.05,3.0,2.75,3.1,3.35,3.2,3.5,3.25,3.15,3.4,3.45,3.6,4.0,3.4,3.6,3.3,3.95,3.45,
3.45,3.2,3.15,3.4,3.6,3.3,3.2,3.45,3.5,3.2,3.1,3.35,3.65,3.3,3.25,3.55,3.9,3.4,3.15,3.35,3.5,3.2,3.2,3.4,
3.4,3.15,3.1,3.3,3.55,3.2,3.05,3.3,3.45,3.15,3.15,3.35,3.35,3.1,3.0,3.25,3.5,3.2,3.1,3.35,3.4,3.1,3.05,3.3,
3.3,3.45,3.65,3.2,3.1,3.3,3.45,3.6,3.9,3.3,3.05,3.25,3.15,3.35,3.4,3.1,3.05,3.3,3.55,3.2,3.1,3.35,3.45,3.55,
];
const p6Pink = [
5.3,4.6,4.0,4.9,5.1,4.2,4.4,4.8,3.7,4.3,6.1,4.5,3.9,4.3,4.65,3.8,3.6,4.4,4.2,3.7,3.75,4.6,4.1,3.6,
3.55,4.3,4.0,4.7,5.2,4.1,3.7,4.5,6.15,4.3,3.5,4.6,4.9,3.9,3.6,4.4,4.8,4.0,4.2,5.0,5.4,4.3,3.95,4.7,
5.2,4.5,4.3,5.0,5.6,4.6,4.0,4.8,5.0,4.3,4.5,5.3,5.4,4.6,3.9,4.7,5.1,4.4,4.6,5.5,6.35,4.9,4.2,5.2,
5.3,4.7,4.1,5.2,5.9,4.9,4.6,5.5,5.2,4.5,3.9,4.8,5.7,4.9,4.4,5.8,7.2,5.0,3.6,4.6,5.0,4.3,4.5,5.6,
5.4,4.6,4.8,5.8,6.9,5.2,4.6,5.4,6.2,4.9,4.3,5.1,5.9,4.8,5.0,6.0,4.2,5.2,6.2,4.9,4.7,5.5,5.6,4.8,
4.0,5.3,6.1,4.9,4.5,5.6,5.8,4.7,4.1,5.5,7.4,5.6,4.8,5.9,5.5,4.6,4.3,5.4,6.4,5.0,5.2,6.1,5.0,4.6,
6.3,5.1,4.4,5.4,5.9,4.9,4.7,5.8,6.5,5.3,5.0,6.0,4.3,5.2,6.2,5.4,7.25,5.6,4.8,5.5,5.7,4.9,6.9,5.2,
4.6,5.5,6.0,5.1,4.9,5.9,5.6,4.7,4.4,5.3,6.5,5.4,5.1,6.0,4.6,5.5,6.3,5.2,4.9,5.8,5.8,5.0,4.6,5.6,
6.4,5.3,5.0,5.9,5.7,4.9,4.5,5.4,6.2,5.5,7.15,5.6,4.4,5.3,6.1,5.0,5.0,5.9,5.8,4.8,4.6,5.5,6.3,5.1,
4.7,5.6,6.45,5.3,5.1,5.8,4.4,5.2,6.3,5.5,4.9,5.7,5.8,4.8,3.9,5.5,7.4,5.6,5.2,6.0,6.2,5.4,5.9,4.4,
];

const BLACK = "#000000";
const GREEN = "#00ff00";
const PINK = "#ff0080";

type Series = { values: number[]; color: string; width: number };
type PanelSpec = {
  title: string;
  x0: number; x1: number; yT: number; yB: number;
  yDomain: [number, number];
  yTicks: number[];
  yMinor: number[];
  threshold: number;
  titleX: number; titleY: number;
  xLabX: number; xLabY: number;
  yLabX: number; yLabY: number;
  series: Series[];
};

const FONT = "'Liberation Sans', Arial, Helvetica, sans-serif";
const W = 1.6;

const panels: PanelSpec[] = [
  {
    title: titles[0], x0: 67, x1: 535, yT: 59, yB: 382, yDomain: [2, 5],
    yTicks: yTicks5, yMinor: [2.5, 3.5, 4.5], threshold: thresholds[0],
    titleX: 281, titleY: 30, xLabX: 310, xLabY: 432, yLabX: 28, yLabY: 230,
    series: [{ values: p1Black, color: BLACK, width: W }, { values: p1Green, color: GREEN, width: W }, { values: p1Pink, color: PINK, width: W }],
  },
  {
    title: titles[1], x0: 669, x1: 1137, yT: 58, yB: 381, yDomain: [2, 5],
    yTicks: yTicks5, yMinor: [2.5, 3.5, 4.5], threshold: thresholds[1],
    titleX: 883, titleY: 30, xLabX: 914, xLabY: 431, yLabX: 628, yLabY: 230,
    series: [{ values: p2Black, color: BLACK, width: W }, { values: p2Green, color: GREEN, width: W }, { values: p2Pink, color: PINK, width: W }],
  },
  {
    title: titles[2], x0: 69, x1: 533, yT: 494, yB: 814, yDomain: [2, 5],
    yTicks: yTicks5, yMinor: [2.5, 3.5, 4.5], threshold: thresholds[2],
    titleX: 281, titleY: 465, xLabX: 310, xLabY: 863, yLabX: 28, yLabY: 662,
    series: [{ values: p3Black, color: BLACK, width: W }, { values: p3Pink, color: PINK, width: W }, { values: p3Green, color: GREEN, width: W }],
  },
  {
    title: titles[3], x0: 676, x1: 1144, yT: 496, yB: 818, yDomain: [2, 5],
    yTicks: yTicks5, yMinor: [2.5, 3.5, 4.5], threshold: thresholds[3],
    titleX: 883, titleY: 467, xLabX: 919, xLabY: 868, yLabX: 623, yLabY: 665,
    series: [{ values: p4Black, color: BLACK, width: W }, { values: p4Green, color: GREEN, width: W }, { values: p4Pink, color: PINK, width: W }],
  },
  {
    title: titles[4], x0: 71, x1: 541, yT: 957, yB: 1280, yDomain: [2, 5],
    yTicks: yTicks5, yMinor: [2.5, 3.5, 4.5], threshold: thresholds[4],
    titleX: 281, titleY: 929, xLabX: 316, xLabY: 1330, yLabX: 23, yLabY: 1127,
    series: [{ values: p5Black, color: BLACK, width: W }, { values: p5Green, color: GREEN, width: W }, { values: p5Pink, color: PINK, width: W }],
  },
  {
    title: titles[5], x0: 669, x1: 1138, yT: 957, yB: 1279, yDomain: [2, 8],
    yTicks: yTicks8, yMinor: [3, 5, 7], threshold: thresholds[5],
    titleX: 883, titleY: 929, xLabX: 913, xLabY: 1330, yLabX: 628, yLabY: 1127,
    series: [{ values: p6Black, color: BLACK, width: W }, { values: p6Green, color: GREEN, width: W }, { values: p6Pink, color: PINK, width: 1.3 }],
  },
];

function Panel({ p }: { p: PanelSpec }) {
  const x = d3.scaleLinear().domain([0, 1]).range([p.x0, p.x1]);
  const y = d3.scaleLinear().domain(p.yDomain).range([p.yB, p.yT]);
  const clipId = `clip-${p.x0}-${p.yT}`;
  return (
    <g>
      <defs>
        <clipPath id={clipId}>
          <rect x={p.x0} y={p.yT} width={p.x1 - p.x0} height={p.yB - p.yT} />
        </clipPath>
      </defs>
      <g clipPath={`url(#${clipId})`}>
        {p.series.map((s, si) => {
          const n = s.values.length;
          const line = d3
            .line<number>()
            .x((_, i) => x(i / (n - 1)))
            .y((v) => y(v));
          return (
            <path key={si} d={line(s.values) || ""} fill="none" stroke={s.color}
              strokeWidth={s.width} strokeLinejoin="round" />
          );
        })}
        <line x1={p.x0} x2={p.x1} y1={y(p.threshold)} y2={y(p.threshold)} stroke="#000" strokeWidth={1.3} />
      </g>
      {/* frame */}
      <line x1={p.x0} x2={p.x1} y1={p.yT} y2={p.yT} stroke="#555" strokeWidth={1.2} />
      <line x1={p.x1} x2={p.x1} y1={p.yT} y2={p.yB} stroke="#555" strokeWidth={1.2} />
      <line x1={p.x0} x2={p.x0} y1={p.yT} y2={p.yB} stroke="#222" strokeWidth={1.6} />
      <line x1={p.x0} x2={p.x1} y1={p.yB} y2={p.yB} stroke="#222" strokeWidth={1.6} />
      {/* y ticks */}
      {p.yTicks.map((t) => (
        <g key={`yt${t}`}>
          <line x1={p.x0 - 6} x2={p.x0} y1={y(t)} y2={y(t)} stroke="#222" strokeWidth={1.3} />
          <text x={p.x0 - 8} y={y(t)} textAnchor="end" dominantBaseline="central"
            fontFamily={FONT} fontSize={21} fill="#111">{t}</text>
        </g>
      ))}
      {p.yMinor.map((t) => (
        <line key={`ym${t}`} x1={p.x0} x2={p.x0 + 4} y1={y(t)} y2={y(t)} stroke="#222" strokeWidth={1.2} />
      ))}
      {/* x ticks */}
      {xTicks.map((t, i) => (
        <g key={`xt${t}`}>
          <line x1={x(t)} x2={x(t)} y1={p.yB} y2={p.yB + 6} stroke="#222" strokeWidth={1.3} />
          <text x={x(t)} y={p.yB + 21} textAnchor="middle" dominantBaseline="central"
            fontFamily={FONT} fontSize={21} fill="#111" letterSpacing={-0.5}>{xTickLabels[i]}</text>
        </g>
      ))}
      {xMinor.map((t) => (
        <line key={`xm${t}`} x1={x(t)} x2={x(t)} y1={p.yB} y2={p.yB - 4} stroke="#222" strokeWidth={1.2} />
      ))}
      {/* labels */}
      <text x={p.titleX} y={p.titleY} textAnchor="middle" dominantBaseline="central"
        fontFamily={FONT} fontSize={26} fill="#111">{p.title}</text>
      <text x={p.xLabX} y={p.xLabY} textAnchor="middle" dominantBaseline="central"
        fontFamily={FONT} fontSize={24} fill="#111" letterSpacing={-0.6}>Time (μs)</text>
      <text transform={`translate(${p.yLabX},${p.yLabY}) rotate(-90)`} textAnchor="middle"
        dominantBaseline="central" fontFamily={FONT} fontSize={24} fill="#111" letterSpacing={-0.6}>
        Distance (Å)
      </text>
    </g>
  );
}

export default function App() {
  return (
    <svg width={1158} height={1343} style={{ position: "absolute", left: 0, top: 0, background: "#fff" }}>
      <rect x={0} y={0} width={1158} height={1343} fill="#fff" />
      <line x1={12} x2={548} y1={448} y2={448} stroke="#d8d8d8" strokeWidth={1} />
      {panels.map((p, i) => (
        <Panel key={i} p={p} />
      ))}
    </svg>
  );
}
